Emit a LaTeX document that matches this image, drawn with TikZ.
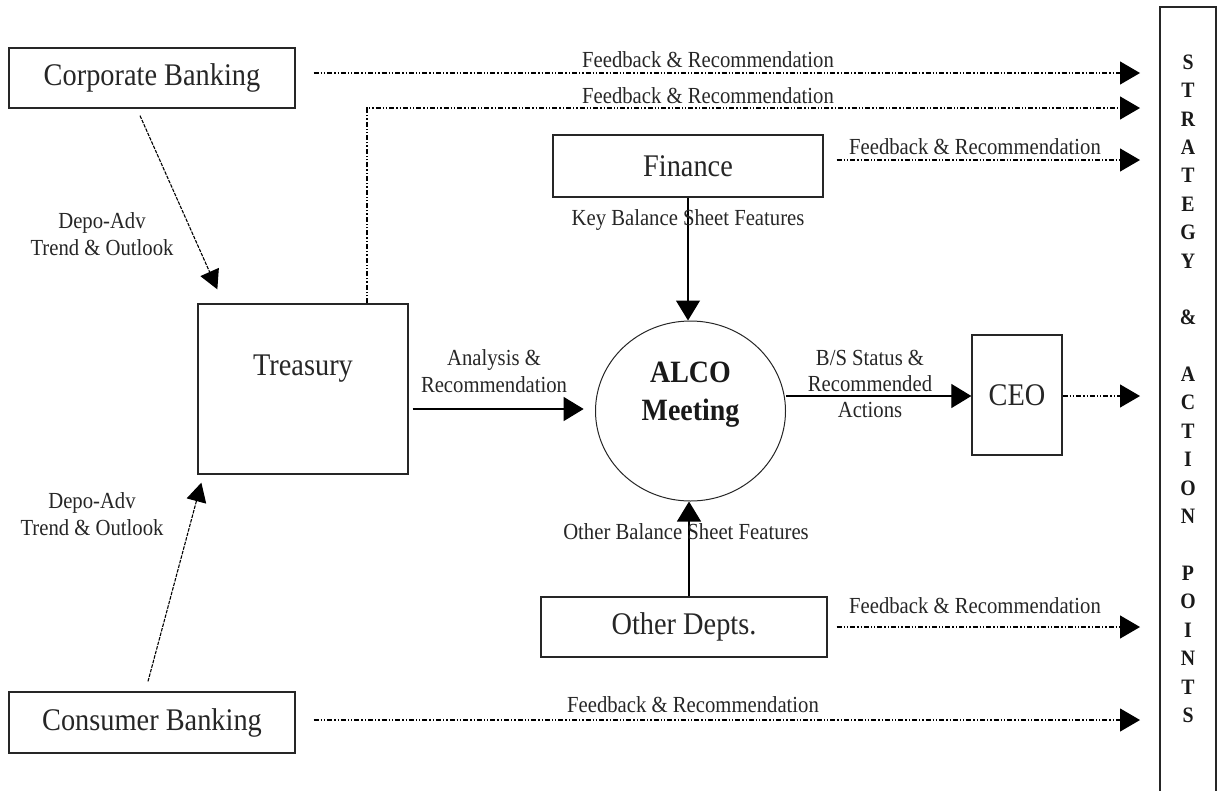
\documentclass[tikz,border=0pt]{standalone}
\usepackage{fontspec}
\setmainfont{Liberation Serif}[FakeStretch=0.9]
\usetikzlibrary{arrows.meta,calc,shapes.geometric}
\tikzset{
  box/.style={draw=black!85, line width=1.3pt, inner sep=0pt},
  big/.style={font=\fontsize{31.5}{36}\selectfont, text=black!85, inner sep=0pt},
  small/.style={font=\fontsize{23}{27}\selectfont, text=black!85, align=center, inner sep=0pt},
  fb/.style={draw=black, line width=1.2pt, dash pattern=on 5pt off 2pt on 1.3pt off 2pt on 1.3pt off 2pt, -{Triangle[length=20pt,width=23pt]}},
  solidarrow/.style={draw=black, line width=1.2pt, -{Triangle[length=20pt,width=24pt]}},
  dep/.style={draw=black, line width=1.1pt, dash pattern=on 3.5pt off 1.2pt, -{Triangle[length=19pt,width=20pt]}},
  letter/.style={font=\fontsize{22}{24}\selectfont\bfseries, text=black!90, inner sep=0pt}
}
\begin{document}
\begin{tikzpicture}[x=1pt,y=-1pt]
\useasboundingbox (0,0) rectangle (1223,790);

% boxes
\node[box, big, minimum width=286pt, minimum height=60pt] (corp) at (152,78) {Corporate Banking};
\node[box, big, minimum width=286pt, minimum height=61pt] (cons) at (152,722.5) {Consumer Banking};
\node[box, minimum width=210pt, minimum height=170pt] (treas) at (303,389) {};
\node[big] (treastext) at (303,369) {Treasury};
\node[box, big, minimum width=270pt, minimum height=62pt] (fin) at (688,166) {Finance};
\node[box, big, minimum width=286pt, minimum height=60pt] (oth) at (684,627) {Other Depts.};
\node[box, big, minimum width=90pt, minimum height=120pt] (ceo) at (1017,395) {CEO};
\node[draw=black!85, line width=1pt, ellipse, minimum width=190pt, minimum height=180pt, inner sep=0pt] (alco) at (690.5,411) {};
\node[align=center, inner sep=0pt, text=black!90, font=\fontsize{31}{38}\selectfont\bfseries] (alcotext) at (690.5,395) {ALCO\\Meeting};

% strategy column
\draw[draw=black!85, line width=1.3pt] (1160,795) -- (1160,7) -- (1216,7) -- (1216,795);
\foreach \i/\ch in {0/S,1/T,2/R,3/A,4/T,5/E,6/G,7/Y,9/\&,11/A,12/C,13/T,14/I,15/O,16/N,18/P,19/O,20/I,21/N,22/T,23/S}
  \node[letter] (L\i) at (1188,{62+28.4*\i}) {\ch};

% arrow end points
\coordinate (e1) at (1140,73);
\coordinate (e2) at (1140,108);
\coordinate (e3) at (1140,160);
\coordinate (e4) at (1140,627);
\coordinate (e5) at (1140,720);
\coordinate (e6) at (1140,396);

% feedback arrows
\draw[fb] ([shift={(18,-5)}]corp.east) -- (e1);
\draw[fb] ([shift={(64,0)}]treas.north) -- ([shift={(64,0)}]treas.north |- e2) -- (e2);
\draw[fb] ([shift={(13,-6)}]fin.east) -- (e3);
\draw[fb] ([shift={(9,0)}]oth.east) -- (e4);
\draw[fb] ([shift={(18,-2.5)}]cons.east) -- (e5);
\draw[fb] ([yshift=-1pt]ceo.east) -- (e6);

\node[small] (lab1) at (708,60) {Feedback \& Recommendation};
\node[small] (lab2) at (708,96) {Feedback \& Recommendation};
\node[small] (lab3) at (975,147) {Feedback \& Recommendation};
\node[small] (lab4) at (975,606) {Feedback \& Recommendation};
\node[small] (lab5) at (693,705) {Feedback \& Recommendation};

% depo arrows
\draw[dep] ([shift={(-12,7)}]corp.south) -- ([shift={(20,-14)}]treas.north west);
\draw[dep] ([shift={(-4,-10)}]cons.north) -- ([shift={(4,8)}]treas.south west);
\node[small] (dep1) at (102,234) {Depo-Adv\\Trend \& Outlook};
\node[small] (dep2) at (92,514.5) {Depo-Adv\\Trend \& Outlook};

% solid arrows
\draw[solidarrow] ([shift={(4,20)}]treas.east) -- ++(171,0) coordinate (atip);
\node[small] (lab6) at (494,371.5) {Analysis \&\\Recommendation};
\draw[solidarrow] (fin.south) -- (fin.south |- alco.north);
\node[small] (lab7) at (688,220) {Key Balance Sheet Features};
\draw[solidarrow] ([xshift=5pt]oth.north) -- ([xshift=5pt]oth.north |- alco.south);
\node[small] (lab8) at (686,532) {Other Balance Sheet Features};
\draw[solidarrow] (alco.east |- e6) -- (ceo.west |- e6);
\node[small, font=\fontsize{23}{26}\selectfont] (lab9) at (870,384) {B/S Status \&\\Recommended\\Actions};
\end{tikzpicture}
\end{document}
